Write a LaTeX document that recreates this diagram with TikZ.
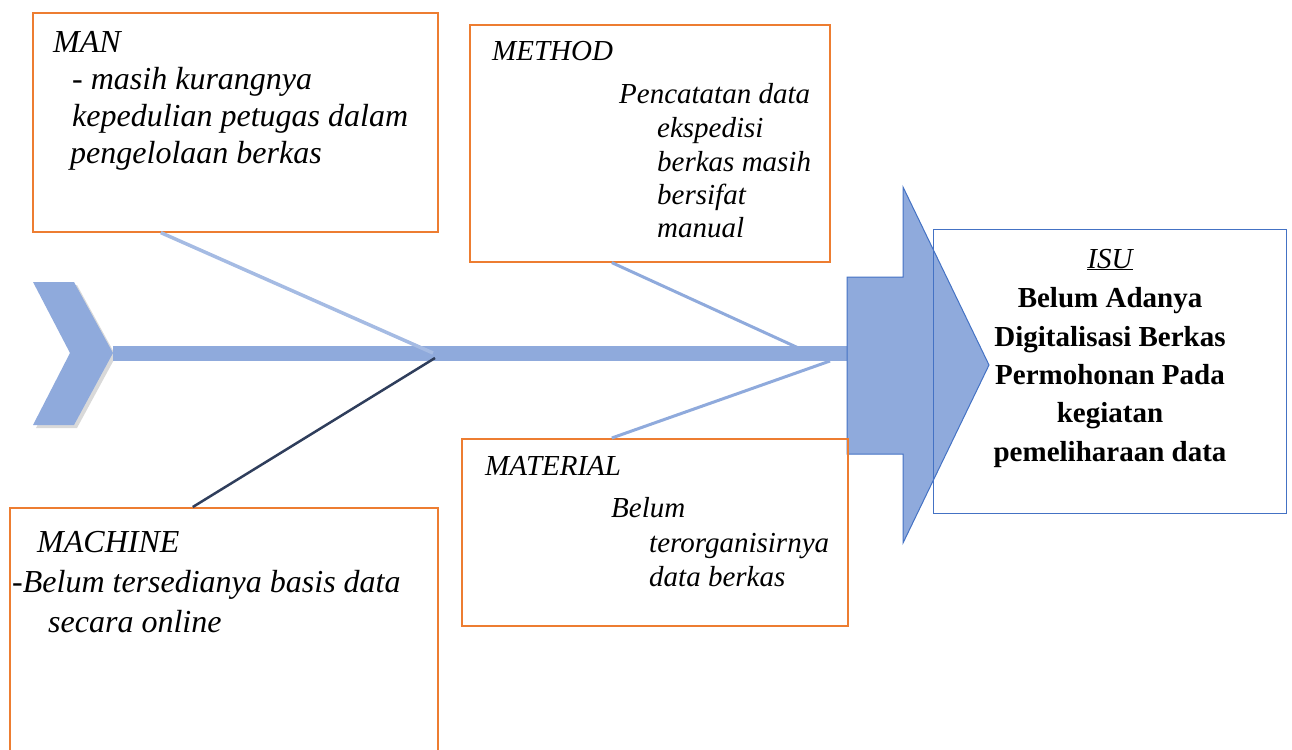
\documentclass[tikz,border=0pt]{standalone}
\usepackage{fontspec}
\setmainfont{Liberation Serif}
\definecolor{orng}{HTML}{ED7D31}
\definecolor{lblue}{HTML}{8FAADC}
\definecolor{dblue}{HTML}{4472C4}
\definecolor{navy}{HTML}{2F3E5C}
\begin{document}
\begin{tikzpicture}[x=1pt,y=-1pt,
  cbox/.style={draw=orng,line width=1.6pt,anchor=north west,inner sep=0pt},
  ibox/.style={draw=dblue,line width=1.2pt,anchor=north west,inner sep=0pt},
  tl/.style={anchor=base west,inner sep=0pt,font=\fontsize{#1}{#1}\selectfont\itshape},
  tb/.style={anchor=base,inner sep=0pt,font=\fontsize{29}{29}\selectfont\bfseries},
  bone/.style={lblue,line width=3pt},
  manbone/.style={lblue!80!white,line width=3.5pt},
  machbone/.style={navy,line width=2.5pt}]
\useasboundingbox (0,0) rectangle (1292,749);
\clip (0,0) rectangle (1292,749);

% chevron tail with shadow
\fill[black,opacity=.15] (36,285) -- (77,285) -- (116,356) -- (77,428) -- (36,428) -- (73,356) -- cycle;
\fill[lblue] (33,282) -- (74,282) -- (113,353) -- (74,425) -- (33,425) -- (70,353) -- cycle;

% spine
\fill[lblue] (113,346) rectangle (850,361);

% big arrow
\filldraw[fill=lblue,draw=dblue,line width=1pt] (847,277) -- (903,277) -- (903,187) -- (989,365) -- (903,543) -- (903,454) -- (847,454) -- cycle;

% boxes
\node[cbox,minimum width=405,minimum height=219] (man) at (32,12) {};
\node[cbox,minimum width=360,minimum height=237] (method) at (469,24) {};
\node[cbox,minimum width=386,minimum height=187] (material) at (461,438) {};
\node[cbox,minimum width=428,minimum height=260] (machine) at (9,507) {};
\node[ibox,minimum width=353,minimum height=284] (isu) at (933,229) {};

% joints on spine
\coordinate (jman) at (433,353);
\coordinate (jmach) at (435,358);
\coordinate (jmeth) at (805,351);
\coordinate (jmat) at (830,361);

% bones
\draw[manbone] ([xshift=-74.5pt]man.south) -- (jman);
\draw[machbone] ([xshift=-31pt]machine.north) -- (jmach);
\draw[bone] ([xshift=-38pt]method.south) -- (jmeth);
\draw[bone] ([xshift=-43pt]material.north) -- (jmat);

% MAN text
\node[tl=32] (man1) at (53,53) {MAN};
\node[tl=32] (man2) at (72,90) {- masih kurangnya};
\node[tl=32] (man3) at (72,127) {kepedulian petugas dalam};
\node[tl=32] (man4) at (70,163) {pengelolaan berkas};

% METHOD text
\node[tl=29] (met1) at (492,61) {METHOD};
\node[tl=29] (met2) at (619,103) {Pencatatan data};
\node[tl=29] (met3) at (657,137) {ekspedisi};
\node[tl=29] (met4) at (657,171) {berkas masih};
\node[tl=29] (met5) at (657,204) {bersifat};
\node[tl=29] (met6) at (657,237) {manual};

% MATERIAL text
\node[tl=29] (mat1) at (485,475) {MATERIAL};
\node[tl=29] (mat2) at (611,517) {Belum};
\node[tl=29] (mat3) at (649,552) {terorganisirnya};
\node[tl=29] (mat4) at (649,586) {data berkas};

% MACHINE text
\node[tl=32] (mac1) at (37,552) {MACHINE};
\node[tl=32] (mac2) at (12,592) {-Belum tersedianya basis data};
\node[tl=32] (mac3) at (48,632) {secara online};

% ISU text
\node[anchor=base,inner sep=0pt,font=\fontsize{29}{29}\selectfont\itshape] (isu0) at (1110,268) {\underline{ISU}};
\node[tb] (isu1) at (1110,307) {Belum Adanya};
\node[tb] (isu2) at (1110,346) {Digitalisasi Berkas};
\node[tb] (isu3) at (1110,384) {Permohonan Pada};
\node[tb] (isu4) at (1110,422) {kegiatan};
\node[tb] (isu5) at (1110,461) {pemeliharaan data};
\end{tikzpicture}
\end{document}
